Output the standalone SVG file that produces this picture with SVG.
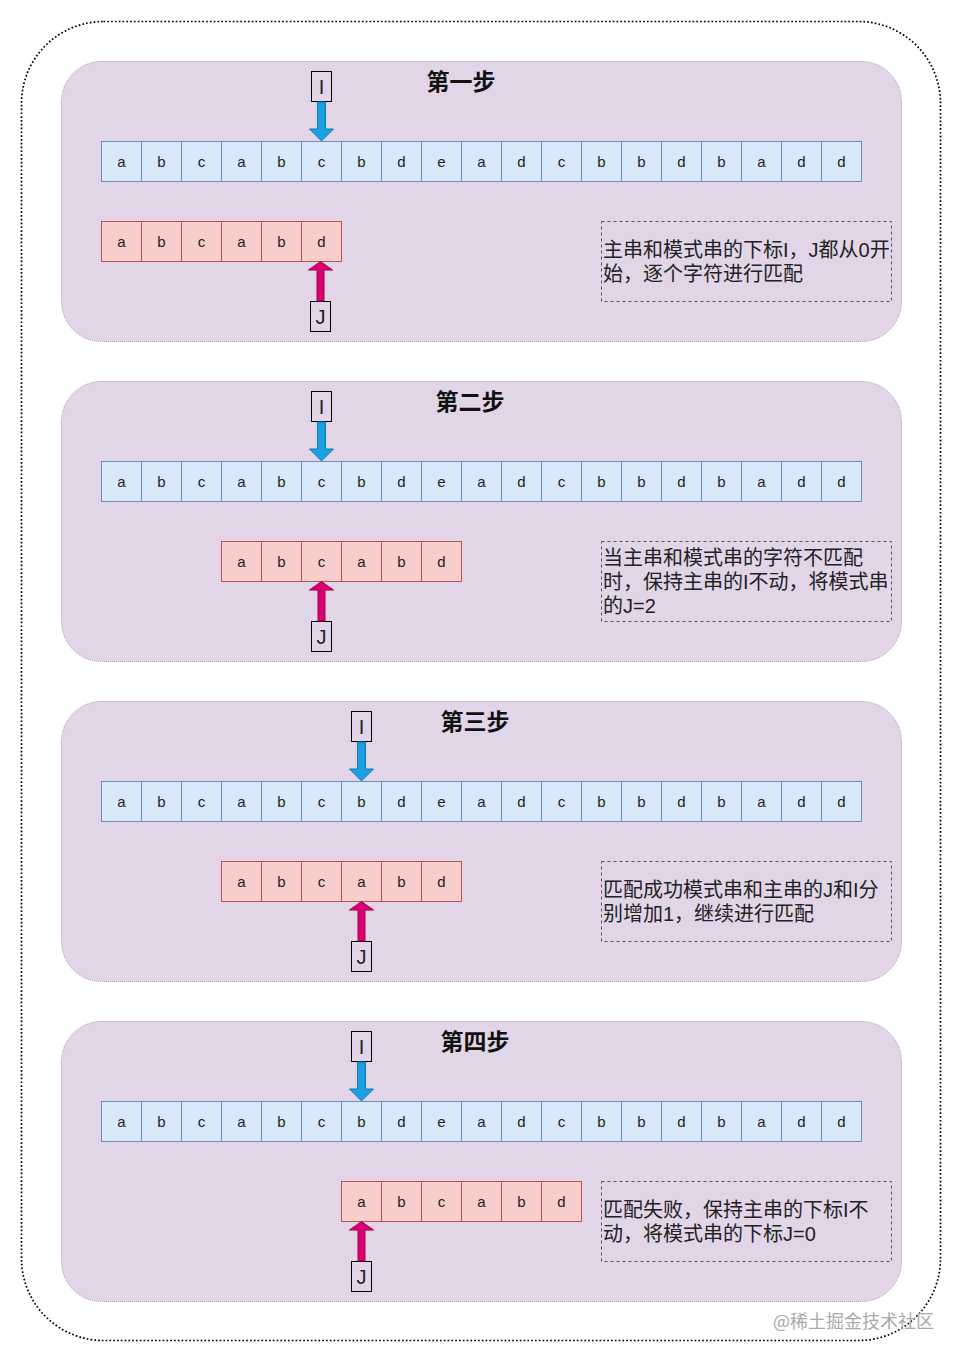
<svg xmlns="http://www.w3.org/2000/svg" width="963" height="1362" viewBox="0 0 963 1362">
<style>
.outer{fill:#ffffff;stroke:#000;stroke-width:1.7;stroke-dasharray:1.7 2.1}
.panel{fill:#e1d5e7;stroke:#a894b5;stroke-width:1;stroke-dasharray:1 1}
.m{fill:#dae8fc;stroke:#6c8ebf;stroke-width:1}
.p{fill:#f8cecc;stroke:#b85450;stroke-width:1}
.ct{font-family:"Liberation Sans",Arial,sans-serif;font-size:15px;fill:#222;text-anchor:middle;dominant-baseline:central}
.lbl{fill:#fff;fill-opacity:0;stroke:#000;stroke-width:1}
.lt{font-family:"Liberation Sans",Arial,sans-serif;font-size:20px;fill:#222;text-anchor:middle;dominant-baseline:central}
.title{font-family:"Noto Sans CJK SC","Noto Sans",sans-serif;font-size:23px;font-weight:bold;fill:#111;text-anchor:middle}
.note{fill:none;stroke:#555;stroke-width:1;stroke-dasharray:3 3}
.nt{font-family:"Liberation Sans","Noto Sans CJK SC",sans-serif;font-size:20px;fill:#222}
.ia{fill:#1ba1e2;stroke:#0f7bb3;stroke-width:1}
.ja{fill:#d80073;stroke:#a50040;stroke-width:1}
.wm{font-family:"Noto Sans CJK SC","Noto Sans",sans-serif;font-size:18px;fill:#a9a9a9}
</style>
<rect class="outer" x="21.5" y="21.5" width="919" height="1319" rx="82" ry="82"/>

<!-- Panel 1 -->
<g id="panel1">
<rect class="panel" x="61.5" y="61.5" width="840" height="280" rx="40" ry="40"/>
<text class="title" x="461" y="90">第一步</text>
</g>
<g id="main1">
<rect class="m" x="101.5" y="141.5" width="40" height="40"/><text class="ct" x="121.5" y="161.5">a</text>
<rect class="m" x="141.5" y="141.5" width="40" height="40"/><text class="ct" x="161.5" y="161.5">b</text>
<rect class="m" x="181.5" y="141.5" width="40" height="40"/><text class="ct" x="201.5" y="161.5">c</text>
<rect class="m" x="221.5" y="141.5" width="40" height="40"/><text class="ct" x="241.5" y="161.5">a</text>
<rect class="m" x="261.5" y="141.5" width="40" height="40"/><text class="ct" x="281.5" y="161.5">b</text>
<rect class="m" x="301.5" y="141.5" width="40" height="40"/><text class="ct" x="321.5" y="161.5">c</text>
<rect class="m" x="341.5" y="141.5" width="40" height="40"/><text class="ct" x="361.5" y="161.5">b</text>
<rect class="m" x="381.5" y="141.5" width="40" height="40"/><text class="ct" x="401.5" y="161.5">d</text>
<rect class="m" x="421.5" y="141.5" width="40" height="40"/><text class="ct" x="441.5" y="161.5">e</text>
<rect class="m" x="461.5" y="141.5" width="40" height="40"/><text class="ct" x="481.5" y="161.5">a</text>
<rect class="m" x="501.5" y="141.5" width="40" height="40"/><text class="ct" x="521.5" y="161.5">d</text>
<rect class="m" x="541.5" y="141.5" width="40" height="40"/><text class="ct" x="561.5" y="161.5">c</text>
<rect class="m" x="581.5" y="141.5" width="40" height="40"/><text class="ct" x="601.5" y="161.5">b</text>
<rect class="m" x="621.5" y="141.5" width="40" height="40"/><text class="ct" x="641.5" y="161.5">b</text>
<rect class="m" x="661.5" y="141.5" width="40" height="40"/><text class="ct" x="681.5" y="161.5">d</text>
<rect class="m" x="701.5" y="141.5" width="40" height="40"/><text class="ct" x="721.5" y="161.5">b</text>
<rect class="m" x="741.5" y="141.5" width="40" height="40"/><text class="ct" x="761.5" y="161.5">a</text>
<rect class="m" x="781.5" y="141.5" width="40" height="40"/><text class="ct" x="801.5" y="161.5">d</text>
<rect class="m" x="821.5" y="141.5" width="40" height="40"/><text class="ct" x="841.5" y="161.5">d</text>
</g>
<g id="pattern1">
<rect class="p" x="101.5" y="221.5" width="40" height="40"/><text class="ct" x="121.5" y="241.5">a</text>
<rect class="p" x="141.5" y="221.5" width="40" height="40"/><text class="ct" x="161.5" y="241.5">b</text>
<rect class="p" x="181.5" y="221.5" width="40" height="40"/><text class="ct" x="201.5" y="241.5">c</text>
<rect class="p" x="221.5" y="221.5" width="40" height="40"/><text class="ct" x="241.5" y="241.5">a</text>
<rect class="p" x="261.5" y="221.5" width="40" height="40"/><text class="ct" x="281.5" y="241.5">b</text>
<rect class="p" x="301.5" y="221.5" width="40" height="40"/><text class="ct" x="321.5" y="241.5">d</text>
</g>
<g id="I1"><rect class="lbl" x="311.5" y="71.5" width="20" height="30"/><text class="lt" x="321.5" y="87">I</text></g>
<g id="J1"><rect class="lbl" x="310.5" y="301.5" width="20" height="30"/><text class="lt" x="320.5" y="317">J</text></g>
<g id="note1">
<rect class="note" x="601.5" y="221.5" width="290" height="80"/>
<text class="nt" x="603" y="257"><tspan x="603">主串和模式串的下标I，J都从0开</tspan><tspan x="603" dy="24">始，逐个字符进行匹配</tspan></text>
</g>

<!-- Panel 2 -->
<g id="panel2">
<rect class="panel" x="61.5" y="381.5" width="840" height="280" rx="40" ry="40"/>
<text class="title" x="470" y="410">第二步</text>
</g>
<g id="main2">
<rect class="m" x="101.5" y="461.5" width="40" height="40"/><text class="ct" x="121.5" y="481.5">a</text>
<rect class="m" x="141.5" y="461.5" width="40" height="40"/><text class="ct" x="161.5" y="481.5">b</text>
<rect class="m" x="181.5" y="461.5" width="40" height="40"/><text class="ct" x="201.5" y="481.5">c</text>
<rect class="m" x="221.5" y="461.5" width="40" height="40"/><text class="ct" x="241.5" y="481.5">a</text>
<rect class="m" x="261.5" y="461.5" width="40" height="40"/><text class="ct" x="281.5" y="481.5">b</text>
<rect class="m" x="301.5" y="461.5" width="40" height="40"/><text class="ct" x="321.5" y="481.5">c</text>
<rect class="m" x="341.5" y="461.5" width="40" height="40"/><text class="ct" x="361.5" y="481.5">b</text>
<rect class="m" x="381.5" y="461.5" width="40" height="40"/><text class="ct" x="401.5" y="481.5">d</text>
<rect class="m" x="421.5" y="461.5" width="40" height="40"/><text class="ct" x="441.5" y="481.5">e</text>
<rect class="m" x="461.5" y="461.5" width="40" height="40"/><text class="ct" x="481.5" y="481.5">a</text>
<rect class="m" x="501.5" y="461.5" width="40" height="40"/><text class="ct" x="521.5" y="481.5">d</text>
<rect class="m" x="541.5" y="461.5" width="40" height="40"/><text class="ct" x="561.5" y="481.5">c</text>
<rect class="m" x="581.5" y="461.5" width="40" height="40"/><text class="ct" x="601.5" y="481.5">b</text>
<rect class="m" x="621.5" y="461.5" width="40" height="40"/><text class="ct" x="641.5" y="481.5">b</text>
<rect class="m" x="661.5" y="461.5" width="40" height="40"/><text class="ct" x="681.5" y="481.5">d</text>
<rect class="m" x="701.5" y="461.5" width="40" height="40"/><text class="ct" x="721.5" y="481.5">b</text>
<rect class="m" x="741.5" y="461.5" width="40" height="40"/><text class="ct" x="761.5" y="481.5">a</text>
<rect class="m" x="781.5" y="461.5" width="40" height="40"/><text class="ct" x="801.5" y="481.5">d</text>
<rect class="m" x="821.5" y="461.5" width="40" height="40"/><text class="ct" x="841.5" y="481.5">d</text>
</g>
<g id="pattern2">
<rect class="p" x="221.5" y="541.5" width="40" height="40"/><text class="ct" x="241.5" y="561.5">a</text>
<rect class="p" x="261.5" y="541.5" width="40" height="40"/><text class="ct" x="281.5" y="561.5">b</text>
<rect class="p" x="301.5" y="541.5" width="40" height="40"/><text class="ct" x="321.5" y="561.5">c</text>
<rect class="p" x="341.5" y="541.5" width="40" height="40"/><text class="ct" x="361.5" y="561.5">a</text>
<rect class="p" x="381.5" y="541.5" width="40" height="40"/><text class="ct" x="401.5" y="561.5">b</text>
<rect class="p" x="421.5" y="541.5" width="40" height="40"/><text class="ct" x="441.5" y="561.5">d</text>
</g>
<g id="I2"><rect class="lbl" x="311.5" y="391.5" width="20" height="30"/><text class="lt" x="321.5" y="407">I</text></g>
<g id="J2"><rect class="lbl" x="311.5" y="621.5" width="20" height="30"/><text class="lt" x="321.5" y="637">J</text></g>
<g id="note2">
<rect class="note" x="601.5" y="541.5" width="290" height="80"/>
<text class="nt" x="603" y="565"><tspan x="603">当主串和模式串的字符不匹配</tspan><tspan x="603" dy="24">时，保持主串的I不动，将模式串</tspan><tspan x="603" dy="24">的J=2</tspan></text>
</g>

<!-- Panel 3 -->
<g id="panel3">
<rect class="panel" x="61.5" y="701.5" width="840" height="280" rx="40" ry="40"/>
<text class="title" x="475" y="730">第三步</text>
</g>
<g id="main3">
<rect class="m" x="101.5" y="781.5" width="40" height="40"/><text class="ct" x="121.5" y="801.5">a</text>
<rect class="m" x="141.5" y="781.5" width="40" height="40"/><text class="ct" x="161.5" y="801.5">b</text>
<rect class="m" x="181.5" y="781.5" width="40" height="40"/><text class="ct" x="201.5" y="801.5">c</text>
<rect class="m" x="221.5" y="781.5" width="40" height="40"/><text class="ct" x="241.5" y="801.5">a</text>
<rect class="m" x="261.5" y="781.5" width="40" height="40"/><text class="ct" x="281.5" y="801.5">b</text>
<rect class="m" x="301.5" y="781.5" width="40" height="40"/><text class="ct" x="321.5" y="801.5">c</text>
<rect class="m" x="341.5" y="781.5" width="40" height="40"/><text class="ct" x="361.5" y="801.5">b</text>
<rect class="m" x="381.5" y="781.5" width="40" height="40"/><text class="ct" x="401.5" y="801.5">d</text>
<rect class="m" x="421.5" y="781.5" width="40" height="40"/><text class="ct" x="441.5" y="801.5">e</text>
<rect class="m" x="461.5" y="781.5" width="40" height="40"/><text class="ct" x="481.5" y="801.5">a</text>
<rect class="m" x="501.5" y="781.5" width="40" height="40"/><text class="ct" x="521.5" y="801.5">d</text>
<rect class="m" x="541.5" y="781.5" width="40" height="40"/><text class="ct" x="561.5" y="801.5">c</text>
<rect class="m" x="581.5" y="781.5" width="40" height="40"/><text class="ct" x="601.5" y="801.5">b</text>
<rect class="m" x="621.5" y="781.5" width="40" height="40"/><text class="ct" x="641.5" y="801.5">b</text>
<rect class="m" x="661.5" y="781.5" width="40" height="40"/><text class="ct" x="681.5" y="801.5">d</text>
<rect class="m" x="701.5" y="781.5" width="40" height="40"/><text class="ct" x="721.5" y="801.5">b</text>
<rect class="m" x="741.5" y="781.5" width="40" height="40"/><text class="ct" x="761.5" y="801.5">a</text>
<rect class="m" x="781.5" y="781.5" width="40" height="40"/><text class="ct" x="801.5" y="801.5">d</text>
<rect class="m" x="821.5" y="781.5" width="40" height="40"/><text class="ct" x="841.5" y="801.5">d</text>
</g>
<g id="pattern3">
<rect class="p" x="221.5" y="861.5" width="40" height="40"/><text class="ct" x="241.5" y="881.5">a</text>
<rect class="p" x="261.5" y="861.5" width="40" height="40"/><text class="ct" x="281.5" y="881.5">b</text>
<rect class="p" x="301.5" y="861.5" width="40" height="40"/><text class="ct" x="321.5" y="881.5">c</text>
<rect class="p" x="341.5" y="861.5" width="40" height="40"/><text class="ct" x="361.5" y="881.5">a</text>
<rect class="p" x="381.5" y="861.5" width="40" height="40"/><text class="ct" x="401.5" y="881.5">b</text>
<rect class="p" x="421.5" y="861.5" width="40" height="40"/><text class="ct" x="441.5" y="881.5">d</text>
</g>
<g id="I3"><rect class="lbl" x="351.5" y="711.5" width="20" height="30"/><text class="lt" x="361.5" y="727">I</text></g>
<g id="J3"><rect class="lbl" x="351.5" y="941.5" width="20" height="30"/><text class="lt" x="361.5" y="957">J</text></g>
<g id="note3">
<rect class="note" x="601.5" y="861.5" width="290" height="80"/>
<text class="nt" x="603" y="897"><tspan x="603">匹配成功模式串和主串的J和I分</tspan><tspan x="603" dy="24">别增加1，继续进行匹配</tspan></text>
</g>

<!-- Panel 4 -->
<g id="panel4">
<rect class="panel" x="61.5" y="1021.5" width="840" height="280" rx="40" ry="40"/>
<text class="title" x="475" y="1050">第四步</text>
</g>
<g id="main4">
<rect class="m" x="101.5" y="1101.5" width="40" height="40"/><text class="ct" x="121.5" y="1121.5">a</text>
<rect class="m" x="141.5" y="1101.5" width="40" height="40"/><text class="ct" x="161.5" y="1121.5">b</text>
<rect class="m" x="181.5" y="1101.5" width="40" height="40"/><text class="ct" x="201.5" y="1121.5">c</text>
<rect class="m" x="221.5" y="1101.5" width="40" height="40"/><text class="ct" x="241.5" y="1121.5">a</text>
<rect class="m" x="261.5" y="1101.5" width="40" height="40"/><text class="ct" x="281.5" y="1121.5">b</text>
<rect class="m" x="301.5" y="1101.5" width="40" height="40"/><text class="ct" x="321.5" y="1121.5">c</text>
<rect class="m" x="341.5" y="1101.5" width="40" height="40"/><text class="ct" x="361.5" y="1121.5">b</text>
<rect class="m" x="381.5" y="1101.5" width="40" height="40"/><text class="ct" x="401.5" y="1121.5">d</text>
<rect class="m" x="421.5" y="1101.5" width="40" height="40"/><text class="ct" x="441.5" y="1121.5">e</text>
<rect class="m" x="461.5" y="1101.5" width="40" height="40"/><text class="ct" x="481.5" y="1121.5">a</text>
<rect class="m" x="501.5" y="1101.5" width="40" height="40"/><text class="ct" x="521.5" y="1121.5">d</text>
<rect class="m" x="541.5" y="1101.5" width="40" height="40"/><text class="ct" x="561.5" y="1121.5">c</text>
<rect class="m" x="581.5" y="1101.5" width="40" height="40"/><text class="ct" x="601.5" y="1121.5">b</text>
<rect class="m" x="621.5" y="1101.5" width="40" height="40"/><text class="ct" x="641.5" y="1121.5">b</text>
<rect class="m" x="661.5" y="1101.5" width="40" height="40"/><text class="ct" x="681.5" y="1121.5">d</text>
<rect class="m" x="701.5" y="1101.5" width="40" height="40"/><text class="ct" x="721.5" y="1121.5">b</text>
<rect class="m" x="741.5" y="1101.5" width="40" height="40"/><text class="ct" x="761.5" y="1121.5">a</text>
<rect class="m" x="781.5" y="1101.5" width="40" height="40"/><text class="ct" x="801.5" y="1121.5">d</text>
<rect class="m" x="821.5" y="1101.5" width="40" height="40"/><text class="ct" x="841.5" y="1121.5">d</text>
</g>
<g id="pattern4">
<rect class="p" x="341.5" y="1181.5" width="40" height="40"/><text class="ct" x="361.5" y="1201.5">a</text>
<rect class="p" x="381.5" y="1181.5" width="40" height="40"/><text class="ct" x="401.5" y="1201.5">b</text>
<rect class="p" x="421.5" y="1181.5" width="40" height="40"/><text class="ct" x="441.5" y="1201.5">c</text>
<rect class="p" x="461.5" y="1181.5" width="40" height="40"/><text class="ct" x="481.5" y="1201.5">a</text>
<rect class="p" x="501.5" y="1181.5" width="40" height="40"/><text class="ct" x="521.5" y="1201.5">b</text>
<rect class="p" x="541.5" y="1181.5" width="40" height="40"/><text class="ct" x="561.5" y="1201.5">d</text>
</g>
<g id="I4"><rect class="lbl" x="351.5" y="1031.5" width="20" height="30"/><text class="lt" x="361.5" y="1047">I</text></g>
<g id="J4"><rect class="lbl" x="351.5" y="1261.5" width="20" height="30"/><text class="lt" x="361.5" y="1277">J</text></g>
<g id="note4">
<rect class="note" x="601.5" y="1181.5" width="290" height="80"/>
<text class="nt" x="603" y="1217"><tspan x="603">匹配失败，保持主串的下标I不</tspan><tspan x="603" dy="24">动，将模式串的下标J=0</tspan></text>
</g>

<!-- Connectors -->
<g id="connectors">
<polygon class="ia" points="317.5,102 325.5,102 325.5,129 333.5,129 321.5,141 309.5,129 317.5,129"/>
<polygon class="ja" points="317,301 324,301 324,270 332.5,270 320.5,261.5 308.5,270 317,270"/>
<polygon class="ia" points="317.5,422 325.5,422 325.5,449 333.5,449 321.5,461 309.5,449 317.5,449"/>
<polygon class="ja" points="318,621 325,621 325,590 333.5,590 321.5,581.5 309.5,590 318,590"/>
<polygon class="ia" points="357.5,742 365.5,742 365.5,769 373.5,769 361.5,781 349.5,769 357.5,769"/>
<polygon class="ja" points="358,941 365,941 365,910 373.5,910 361.5,901.5 349.5,910 358,910"/>
<polygon class="ia" points="357.5,1062 365.5,1062 365.5,1089 373.5,1089 361.5,1101 349.5,1089 357.5,1089"/>
<polygon class="ja" points="358,1261 365,1261 365,1230 373.5,1230 361.5,1221.5 349.5,1230 358,1230"/>
</g>

<text class="wm" x="773" y="1328">@稀土掘金技术社区</text>
</svg>
